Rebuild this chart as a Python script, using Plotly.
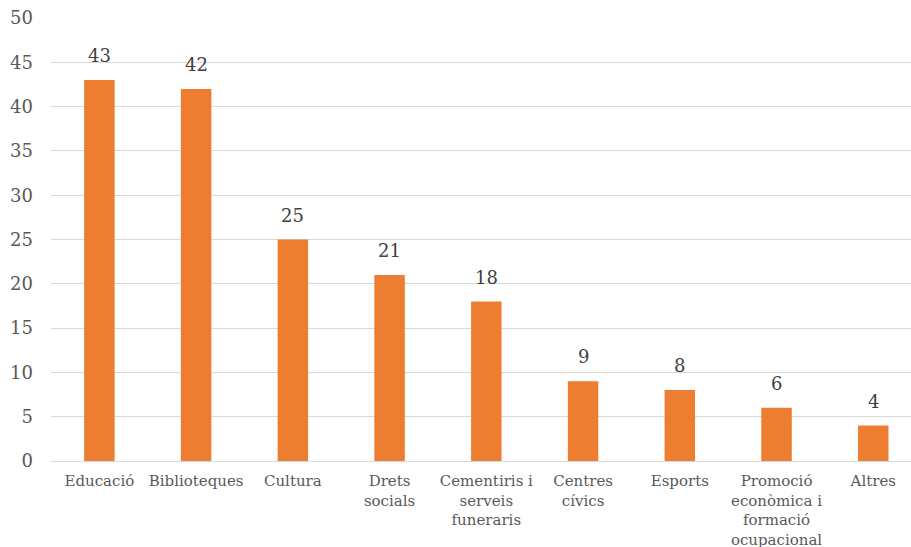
import plotly.graph_objects as go

categories = ["Educació", "Biblioteques", "Cultura", "Drets<br>socials",
              "Cementiris i<br>serveis<br>funeraris", "Centres<br>cívics", "Esports",
              "Promoció<br>econòmica i<br>formació<br>ocupacional", "Altres"]
values = [43, 42, 25, 21, 18, 9, 8, 6, 4]
y_ticks = [0, 5, 10, 15, 20, 25, 30, 35, 40, 45, 50]

FONT = "DejaVu Serif"
TEXT = "#595959"

fig = go.Figure()
fig.add_trace(go.Bar(
    x=list(range(len(categories))), y=values,
    marker=dict(color="#ED7D31", line=dict(width=0)),
    width=0.315, hoverinfo="skip",
))
for i, v in enumerate(values):
    fig.add_annotation(x=i, y=v, text=str(v), showarrow=False, yanchor="bottom",
                       yshift=12, font=dict(family=FONT, size=18, color="#404040"))

fig.update_layout(
    width=911, height=547,
    margin=dict(l=51, r=0, t=18, b=86, autoexpand=False),
    paper_bgcolor="white", plot_bgcolor="white",
    showlegend=False,
    font=dict(family=FONT, color=TEXT),
)
fig.update_xaxes(
    range=[-0.5, 8.39], tickmode="array",
    tickvals=list(range(len(categories))), ticktext=categories,
    tickfont=dict(family=FONT, size=15, color=TEXT),
    showgrid=False, showline=False, zeroline=False, ticks="",
    ticklabelstandoff=9, automargin=False,
)
fig.update_yaxes(
    range=[0, 50], tickmode="array", tickvals=y_ticks,
    tickfont=dict(family=FONT, size=18, color=TEXT),
    showgrid=True, gridcolor="#D9D9D9", gridwidth=1.3,
    zeroline=True, zerolinecolor="#D9D9D9", zerolinewidth=1.3,
    showline=False, ticks="", ticklabelstandoff=17, automargin=False,
)

fig.write_html("out.html")
